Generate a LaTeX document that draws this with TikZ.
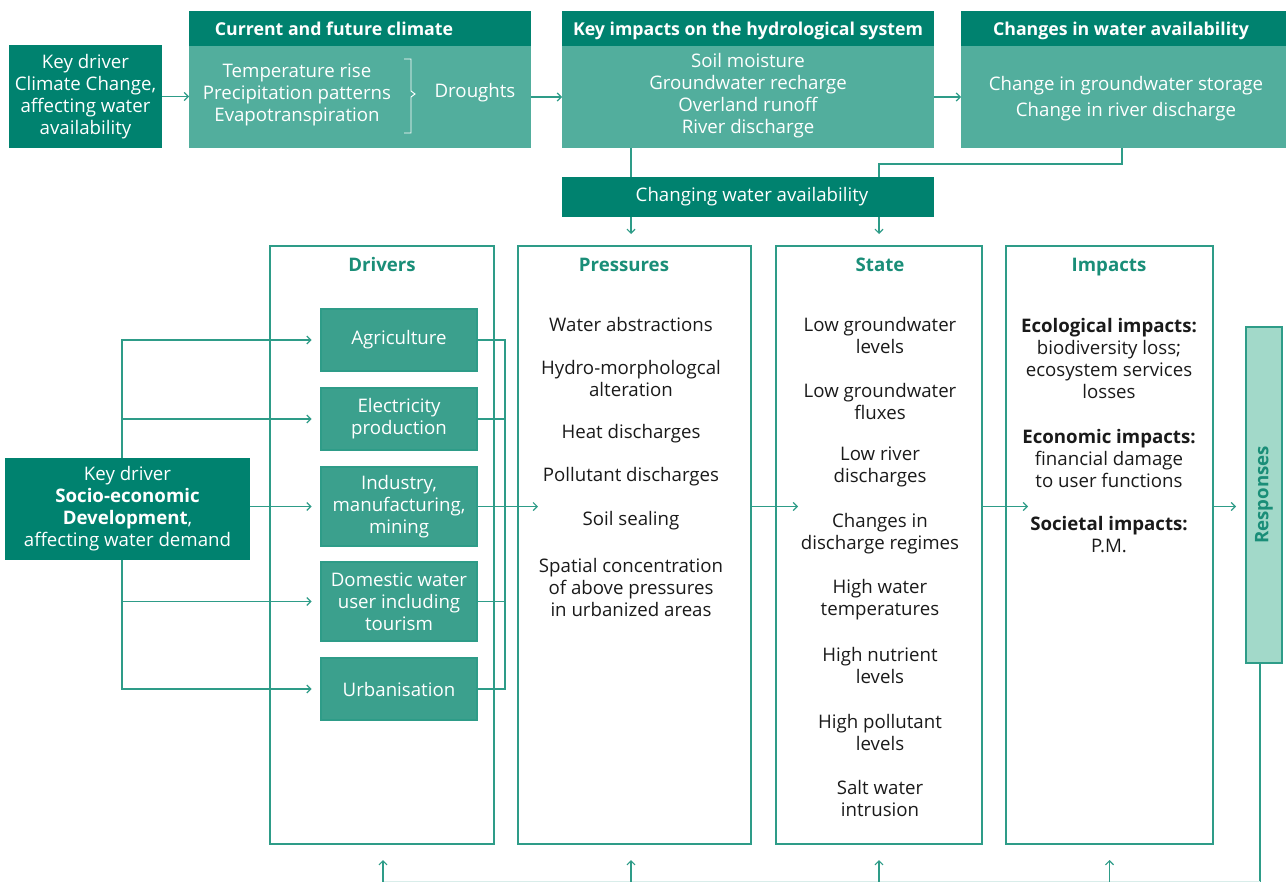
\documentclass[tikz,border=0pt]{standalone}
\usepackage{fontspec}
\setmainfont{Open Sans}
\usetikzlibrary{arrows.meta}
\definecolor{cdark}{HTML}{00826F}
\definecolor{cbody}{HTML}{52AE9D}
\definecolor{cdrv}{HTML}{3BA08D}
\definecolor{cresp}{HTML}{A2D9C9}
\definecolor{cline}{HTML}{2E9C88}
\definecolor{ctitle}{HTML}{1A8E78}
\definecolor{ctext}{HTML}{1A1A1A}
\newcommand\pxbox[7]{\node[#2, minimum width={(#5-#3)*0.75pt}, minimum height={(#6-#4)*0.75pt}] (#1) at ({(#3+#5)/2},{(#4+#6)/2}) {#7};}
\tikzset{
 base/.style={inner sep=0pt, outer sep=0pt, align=center, font=\fontsize{14}{16.5}\selectfont},
 darkbox/.style={base, fill=cdark, text=white},
 bodybox/.style={base, fill=cbody, text=white},
 hdr/.style={darkbox},
 hdrtxt/.style={inner sep=0pt, anchor=base, text=white, font=\fontsize{13.3}{16.5}\selectfont\bfseries},
 drvbox/.style={base, fill=cdrv, draw=cline, line width=0.8pt, text=white},
 frame/.style={base, draw=cline, line width=0.9pt},
 respbox/.style={base, fill=cresp, draw=cline, line width=0.8pt},
 ttl/.style={inner sep=0pt, font=\fontsize{14}{16}\selectfont\bfseries, text=ctitle},
 item/.style={align=center, inner sep=0pt, font=\fontsize{14}{16.5}\selectfont, text=ctext},
 wtxt/.style={align=center, inner sep=0pt, font=\fontsize{14}{16.5}\selectfont, text=white},
 conn/.style={draw=cline, line width=0.9pt},
 faint/.style={draw=cline!18, line width=0.9pt},
 arr/.style={conn, -{Straight Barb[length=3pt,width=6pt]}},
}
\begin{document}
\begin{tikzpicture}[x=0.75pt,y=-0.75pt]
\useasboundingbox (0,0) rectangle (1287,882);
% top row
\pxbox{kdcc}{darkbox}{9}{45}{162}{148}{Key driver\\Climate Change,\\affecting water\\availability}
\pxbox{cch}{hdr}{189}{11}{531}{46}{}
\node[hdrtxt] (ccht) at (334,35) {Current and future climate};
\pxbox{ccb}{bodybox}{189}{46}{531}{148}{}
\node[wtxt] (ccl) at (297,95) {Temperature rise\\Precipitation patterns\\Evapotranspiration};
\draw[white, line width=0.7pt] (404,59) -- (411,59) -- (411,91) -- (415,94) -- (411,97) -- (411,133) -- (404,133);
\node[wtxt] (dro) at (475,93) {Droughts};
\pxbox{kih}{hdr}{562}{11}{934}{46}{}
\node[hdrtxt] (kiht) at (748,35) {Key impacts on the hydrological system};
\pxbox{kib}{bodybox}{562}{46}{934}{148}{}
\node[wtxt] (kibt) at (748,96) {Soil moisture\\Groundwater recharge\\Overland runoff\\River discharge};
\pxbox{cwh}{hdr}{961}{11}{1286}{46}{}
\node[hdrtxt] (cwht) at (1121,35) {Changes in water availability};
\pxbox{cwb}{bodybox}{961}{46}{1286}{148}{}
\node[wtxt] (cwbt) at (1126,99) {Change in groundwater storage\\[3pt]Change in river discharge};
\pxbox{cwa}{darkbox}{562}{177}{934}{217}{}
\node[wtxt] (cwat) at (752,197) {Changing water availability};
\draw[arr] (kdcc.east) -- (kdcc.east -| ccb.west);
\draw[arr] (ccb.east) -- (kib.west);
\draw[arr] (kib.east) -- (cwb.west);
\coordinate (xA) at (631,0);
\coordinate (xB) at (879,0);
\coordinate (xC) at (1122,0);
\draw[conn] (kib.south -| xA) -- (cwa.north -| xA);
\draw[conn] (cwb.south -| xC) -- ++(0,16) -| (cwa.north -| xB);
\draw[arr] (cwa.south -| xA) -- ++(0,17);
\draw[arr] (cwa.south -| xB) -- ++(0,17);
% frames
\pxbox{dr}{frame}{270}{246}{494}{844}{}
\pxbox{pr}{frame}{518}{246}{751}{844}{}
\pxbox{st}{frame}{776}{246}{982}{844}{}
\pxbox{im}{frame}{1006}{246}{1213}{844}{}
\node[ttl, anchor=base] (drt) at (382,271) {Drivers};
\node[ttl, anchor=base] (prt) at (624,271) {Pressures};
\node[ttl, anchor=base] (stt) at (880,271) {State};
\node[ttl, anchor=base] (imt) at (1109,271) {Impacts};
% drivers
\pxbox{ag}{drvbox}{321}{309}{477}{371}{Agriculture}
\pxbox{el}{drvbox}{321}{388}{477}{450}{Electricity\\production}
\pxbox{in}{drvbox}{321}{467}{477}{546}{Industry,\\manufacturing,\\mining}
\pxbox{dw}{drvbox}{321}{562}{477}{641}{Domestic water\\user including\\tourism}
\pxbox{ur}{drvbox}{321}{658}{477}{720}{Urbanisation}
\pxbox{se}{darkbox}{5}{458}{250}{560}{Key driver\\\textbf{Socio-economic}\\\textbf{Development},\\affecting water demand}
% pressures
\node[item] (p1) at (631,324) {Water abstractions};
\node[item] (p2) at (631,378) {Hydro-morphologcal\\alteration};
\node[item] (p3) at (631,434) {Heat discharges};
\node[item] (p4) at (631,477) {Pollutant discharges};
\node[item] (p5) at (631,521) {Soil sealing};
\node[item] (p6) at (631,587) {Spatial concentration\\of above pressures\\in urbanized areas};
% state
\node[item] (s1) at (880,335) {Low groundwater\\levels};
\node[item] (s2) at (880,401) {Low groundwater\\fluxes};
\node[item] (s3) at (880,467) {Low river\\discharges};
\node[item] (s4) at (880,533.5) {Changes in\\discharge regimes};
\node[item] (s5) at (880,599.5) {High water\\temperatures};
\node[item] (s6) at (880,665.5) {High nutrient\\levels};
\node[item] (s7) at (880,732) {High pollutant\\levels};
\node[item] (s8) at (880,798) {Salt water\\intrusion};
% impacts
\node[item] (i1) at (1109,358) {\textbf{Ecological impacts:}\\biodiversity loss;\\ecosystem services\\losses};
\node[item] (i2) at (1109,458) {\textbf{Economic impacts:}\\financial damage\\to user functions};
\node[item] (i3) at (1109,534.5) {\textbf{Societal impacts:}\\P.M.};
% responses
\pxbox{resp}{respbox}{1246}{327}{1282}{663}{}
\node[ttl, rotate=90] (respt) at (resp) {Responses};
% driver connectors
\coordinate (v1) at (122,0);
\coordinate (v2) at (505,0);
\draw[arr] (se.north -| v1) |- ([xshift=-7pt]ag.west);
\draw[arr] (se.north -| v1) |- ([xshift=-7pt]el.west);
\draw[arr] (se.south -| v1) |- ([xshift=-7pt]dw.west);
\draw[arr] (se.south -| v1) |- ([xshift=-7pt]ur.west);
\draw[arr] (se.east |- in.west) -- ([xshift=-7pt]in.west);
\draw[conn] (ag.east) -| (v2 |- ur.east) -- (ur.east);
\draw[conn] (el.east) -- (v2 |- el.east);
\draw[conn] (dw.east) -- (v2 |- dw.east);
\coordinate (t1) at (538,0);
\coordinate (t2) at (798,0);
\coordinate (t3) at (1028,0);
\coordinate (t4) at (1236,0);
\draw[arr] (in.east) -- (t1 |- in.east);
\draw[arr] (pr.east |- in.east) -- (t2 |- in.east);
\draw[arr] (st.east |- in.east) -- (t3 |- in.east);
\draw[arr] (im.east |- in.east) -- (t4 |- in.east);
% feedback
\coordinate (xR) at (1260,0);
\coordinate (bl) at (383,881.5);
\draw[conn] (resp.south -| xR) -- (xR |- bl);
\draw[faint] (xR |- bl) -- (bl);
\draw[arr] (bl) -- ++(0,-21.5);
\draw[arr] (bl -| xA) -- ++(0,-21.5);
\draw[arr] (bl -| st) -- ++(0,-21.5);
\draw[arr] (bl -| im) -- ++(0,-21.5);
\end{tikzpicture}
\end{document}
